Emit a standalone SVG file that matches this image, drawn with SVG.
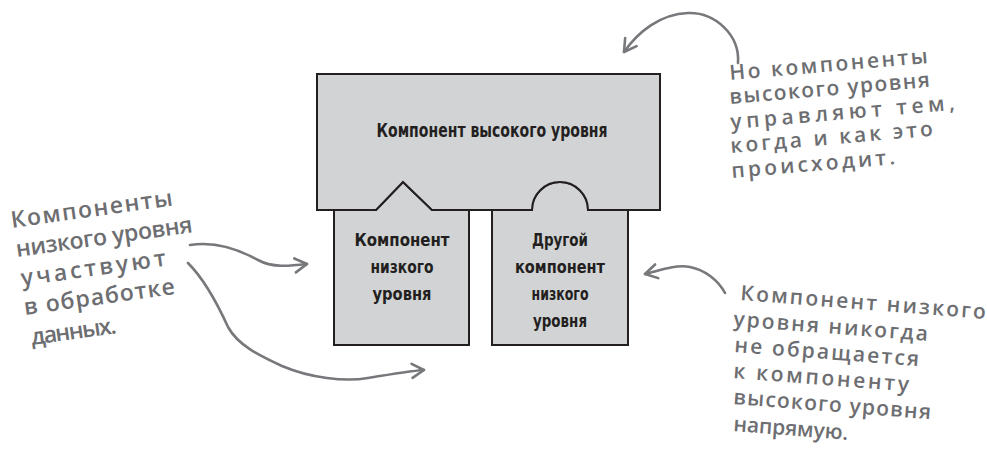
<svg xmlns="http://www.w3.org/2000/svg" width="987" height="454" viewBox="0 0 987 454">
<style>
.box{fill:#d1d3d4;stroke:#231f20;stroke-width:2;stroke-linejoin:miter}
.lbl{font-family:"DejaVu Sans Condensed","DejaVu Sans",sans-serif;font-weight:bold;fill:#231f20;text-anchor:middle;font-size:18px}
.note{font-family:"Open Sans","Noto Sans",sans-serif;font-weight:600;fill:#6d6e71}
.l{font-size:23px}
.r{font-size:21px}
.arr{fill:none;stroke:#77787b;stroke-width:2.6;stroke-linecap:round;stroke-linejoin:round}
</style>
<defs>
<marker id="ah" viewBox="-16 -10 20 20" refX="0" refY="0" markerWidth="20" markerHeight="20" orient="auto" markerUnits="userSpaceOnUse">
<path d="M-12,-7 L0,0 L-12,7" fill="none" stroke="#77787b" stroke-width="2.6" stroke-linecap="round" stroke-linejoin="round"/>
</marker>
</defs>
<rect width="987" height="454" fill="#ffffff"/>

<g id="low-left">
<path class="box" d="M334,210 H376 L403,182 L432,210 H469 V345 H334 Z"/>
<text class="lbl" x="402" y="246" textLength="95" lengthAdjust="spacingAndGlyphs">Компонент</text>
<text class="lbl" x="402" y="273" textLength="63" lengthAdjust="spacingAndGlyphs">низкого</text>
<text class="lbl" x="402" y="300" textLength="59" lengthAdjust="spacingAndGlyphs">уровня</text>
</g>
<g id="low-right">
<path class="box" d="M492,210 H532 A28,28 0 0 1 588,210 H628 V345 H492 Z"/>
<text class="lbl" x="560" y="246" textLength="56" lengthAdjust="spacingAndGlyphs">Другой</text>
<text class="lbl" x="560" y="273" textLength="90" lengthAdjust="spacingAndGlyphs">компонент</text>
<text class="lbl" x="560" y="300" textLength="57" lengthAdjust="spacingAndGlyphs">низкого</text>
<text class="lbl" x="560" y="327" textLength="54" lengthAdjust="spacingAndGlyphs">уровня</text>
</g>
<g id="high">
<path class="box" d="M317,74 H660 V210 H588 A28,28 0 0 0 532,210 H432 L403,182 L376,210 H317 Z"/>
<text class="lbl" x="492" y="137" style="font-size:19px" textLength="231" lengthAdjust="spacingAndGlyphs">Компонент высокого уровня</text>
</g>

<g id="note-left" class="note l">
<text x="12" y="228" transform="rotate(-8 12 228)" textLength="163">Компоненты</text>
<text x="17" y="257" transform="rotate(-8 17 257)" textLength="178">низкого уровня</text>
<text x="22" y="286" transform="rotate(-8 22 286)" textLength="146">участвуют</text>
<text x="25" y="315" transform="rotate(-8 25 315)" textLength="152">в обработке</text>
<text x="32" y="345" transform="rotate(-8 32 345)" textLength="86">данных.</text>
</g>
<g id="note-top" class="note r">
<text x="730" y="80" transform="rotate(-4.9 730 80)" textLength="199">Но компоненты</text>
<text x="730" y="104" transform="rotate(-4.9 730 104)" textLength="201">высокого уровня</text>
<text x="731" y="129" transform="rotate(-4.9 731 129)" textLength="225">управляют тем,</text>
<text x="731" y="153" transform="rotate(-4.9 731 153)" textLength="203">когда и как это</text>
<text x="732" y="178" transform="rotate(-4.9 732 178)" textLength="164">происходит.</text>
</g>
<g id="note-right" class="note r">
<text x="740" y="300" transform="rotate(4.4 740 300)" textLength="246">Компонент низкого</text>
<text x="733" y="326" transform="rotate(4.4 733 326)" textLength="195">уровня никогда</text>
<text x="734" y="352" transform="rotate(4.4 734 352)" textLength="185">не обращается</text>
<text x="733" y="378" transform="rotate(4.4 733 378)" textLength="176">к компоненту</text>
<text x="733" y="404" transform="rotate(4.4 733 404)" textLength="198">высокого уровня</text>
<text x="733" y="431" transform="rotate(4.4 733 431)" textLength="115">напрямую.</text>
</g>

<g id="connectors">
<path class="arr" marker-end="url(#ah)" d="M190,245 C215,241 240,250 258,260 C272,268 290,266 307,264"/>
<path class="arr" marker-end="url(#ah)" d="M188,263 C205,280 218,305 228,327 C238,345 258,355 282,366 C310,378 345,382 368,378 C392,374 410,371 424,370"/>
<path class="arr" marker-end="url(#ah)" d="M738,63 C740,35 715,12 688,13 C660,14 638,32 624,52"/>
<path class="arr" marker-end="url(#ah)" d="M725,293 C718,280 705,270 690,267 C675,264 658,271 645,274"/>
</g>
</svg>
